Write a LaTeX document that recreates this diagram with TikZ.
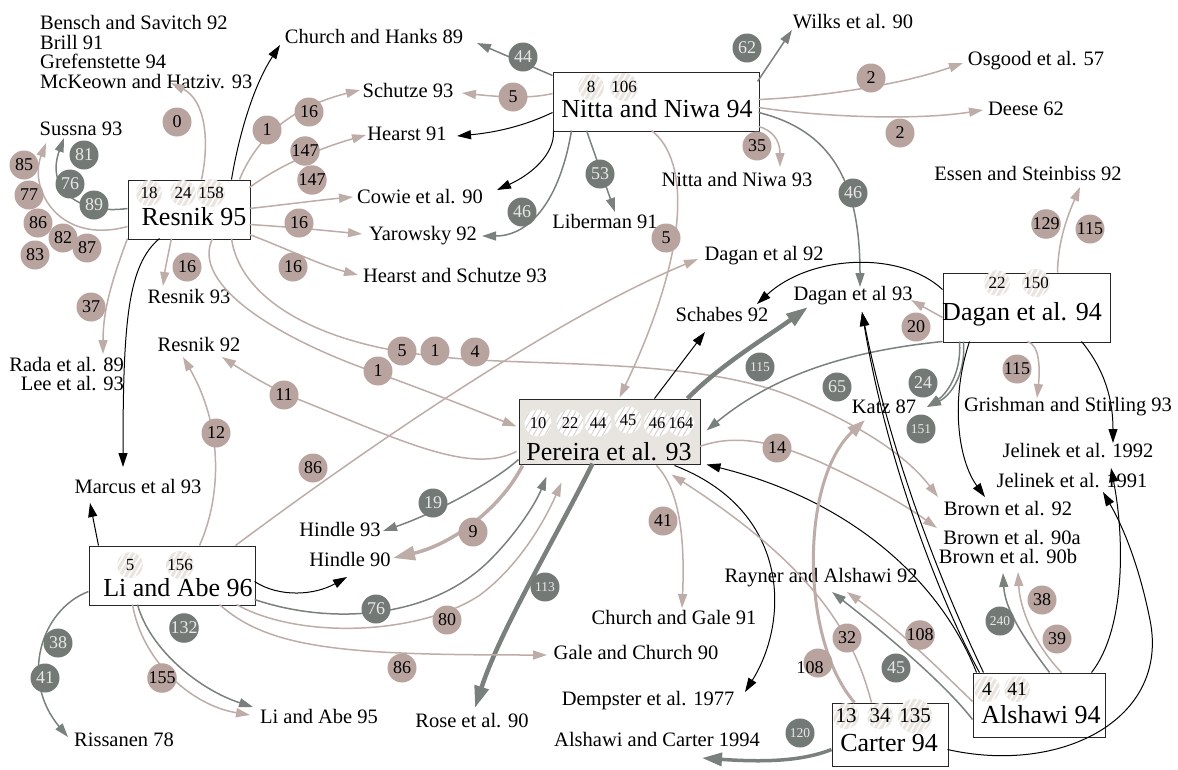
\documentclass[tikz,border=0pt]{standalone}
\usepackage{fontspec}
\setmainfont{Liberation Serif}
\usetikzlibrary{arrows.meta,calc,patterns.meta}
\definecolor{pinkC}{RGB}{184,163,159}
\definecolor{pinkL}{RGB}{190,172,168}
\definecolor{grayC}{RGB}{115,122,118}
\definecolor{grayL}{RGB}{122,129,125}
\definecolor{grayT}{RGB}{232,232,232}
\definecolor{hatchC}{RGB}{234,228,223}
\definecolor{perC}{RGB}{232,229,225}
\tikzset{
 lab/.style={font=\fontsize{20.5}{19.5}\selectfont, inner sep=0pt},
 big/.style={font=\fontsize{26}{26}\selectfont, inner sep=0pt},
 box/.style={draw=black!85, line width=1pt, fill=white, inner sep=0pt},
 pc/.style={circle, fill=pinkC, minimum size=29pt, inner sep=0pt, font=\fontsize{18}{18}\selectfont},
 gc/.style={circle, fill=grayC, text=grayT, minimum size=29pt, inner sep=0pt, font=\fontsize{18}{18}\selectfont},
 sm/.style={font=\fontsize{13.5}{13.5}\selectfont},
 hc/.style={circle, minimum size=26pt, inner sep=0pt, fill=hatchC, postaction={pattern={Lines[angle=60,distance=5pt,line width=1.6pt]}, pattern color=white}, font=\fontsize{17}{17}\selectfont},
 hcw/.style={circle, minimum size=27pt, inner sep=0pt, fill=white, postaction={pattern={Lines[angle=60,distance=5pt,line width=1pt]}, pattern color=hatchC!92!black}, font=\fontsize{16.5}{16.5}\selectfont},
 fc/.style={font=\fontsize{21}{21}\selectfont},
 fa/.style={font=\fontsize{19.5}{19.5}\selectfont},
 tipa/.style={-{Triangle[length=14pt,width=9pt]}},
 tipb/.style={-{Triangle[length=22pt,width=14pt]}},
 pe/.style={draw=pinkL, line width=1.5pt, tipa},
 ge/.style={draw=grayL, line width=1.5pt, tipa},
 be/.style={draw=black, line width=1pt, tipa},
 thickg/.style={draw=grayL, line width=4.5pt, tipb},
 thickp/.style={draw=pinkL, line width=3.5pt, tipb},
}
\begin{document}
\begin{tikzpicture}[x=1pt,y=-1pt]
\useasboundingbox (0,0) rectangle (1178,769);
% boxes
\node[box, minimum width=122pt, minimum height=59pt] (r95) at (189,209.5) {};
\node[box, minimum width=206pt, minimum height=59pt] (nn94) at (656,101.5) {};
\node[box, minimum width=167pt, minimum height=69pt] (d94) at (1026.5,307.5) {};
\node[box, fill=perC, minimum width=181pt, minimum height=65pt] (per) at (609.5,431.5) {};
\node[box, minimum width=166pt, minimum height=59pt] (la96) at (172,575.5) {};
\node[box, minimum width=132pt, minimum height=64pt] (al94) at (1039,705) {};
\node[box, minimum width=116pt, minimum height=63pt] (c94) at (890,734.5) {};
% labels
\node[lab, align=left, anchor=west] (bsb) at (40,52) {Bensch and Savitch 92\\Brill 91\\Grefenstette 94\\McKeown and Hatziv. 93};
\node[lab] (ch89) at (374,36) {Church and Hanks 89};
\node[lab] (sch93) at (408,90) {Schutze 93};
\node[lab] (hea91) at (407,134) {Hearst 91};
\node[lab] (cow90) at (420,197) {Cowie et al. 90};
\node[lab] (yar92) at (423,236) {Yarowsky 92};
\node[lab] (hs93) at (455,275) {Hearst and Schutze 93};
\node[lab] (lib91) at (605,221) {Liberman 91};
\node[lab] (nn93) at (737,179) {Nitta and Niwa 93};
\node[lab] (wil90) at (853,22) {Wilks et al. 90};
\node[lab] (osg57) at (1036,61) {Osgood et al. 57};
\node[lab] (dee62) at (1026,109) {Deese 62};
\node[lab] (ess92) at (1028,173) {Essen and Steinbiss 92};
\node[lab] (sus93) at (81,129) {Sussna 93};
\node[lab] (res93) at (189,296) {Resnik 93};
\node[lab] (res92) at (199,344) {Resnik 92};
\node[lab, align=right, anchor=east] (rada) at (124,374) {Rada et al. 89\\Lee et al. 93};
\node[lab] (mar93) at (138,486) {Marcus et al 93};
\node[lab] (dag92) at (764,256) {Dagan et al 92};
\node[lab] (sch92) at (722,314) {Schabes 92};
\node[lab] (dag93) at (853,296) {Dagan et al 93};
\node[lab] (katz87) at (884,407) {Katz 87};
\node[lab] (gri93) at (1068,407) {Grishman and Stirling 93};
\node[lab] (jel92) at (1078,451) {Jelinek et al. 1992};
\node[lab] (jel91) at (1072,481) {Jelinek et al. 1991};
\node[lab] (bro92) at (1008,509) {Brown et al. 92};
\node[lab] (bro90a) at (1012,538) {Brown et al. 90a};
\node[lab] (bro90b) at (1008,557) {Brown et al. 90b};
\node[lab] (ray92) at (821,578) {Rayner and Alshawi 92};
\node[lab] (hin93) at (340,529) {Hindle 93};
\node[lab] (hin90) at (350,559) {Hindle 90};
\node[lab] (cg91) at (674,617) {Church and Gale 91};
\node[lab] (gc90) at (636,652) {Gale and Church 90};
\node[lab] (dem77) at (648,701) {Dempster et al. 1977};
\node[lab] (rose90) at (472,721) {Rose et al. 90};
\node[lab] (ac94) at (657,739) {Alshawi and Carter 1994};
\node[lab] (la95) at (319,716) {Li and Abe 95};
\node[lab] (ris78) at (124,740) {Rissanen 78};
% edges from Resnik 95
\draw[be] ($(r95.north west)+(104,0)$) .. controls (238,140) and (252,88) .. ($(ch89)+(-94,9)$);
\draw[pe] ($(r95.north west)+(112,0)$) .. controls (260,130) and (300,105) .. ($(sch93)+(-48,0)$);
\draw[pe] ($(r95.north west)+(122,8)$) .. controls (280,165) and (320,148) .. ($(hea91)+(-41,1)$);
\draw[pe] ($(r95.north west)+(122,29)$) .. controls (290,204) and (320,200) .. ($(cow90)+(-67,0)$);
\draw[pe] ($(r95.north west)+(122,45)$) .. controls (290,227) and (320,230) .. ($(yar92)+(-61,-2)$);
\draw[pe] ($(r95.north west)+(122,55)$) .. controls (290,250) and (320,265) .. ($(hs93)+(-97,0)$);
\draw[pe] ($(r95.north west)+(44,59)$) .. controls (168,255) and (165,270) .. ($(res93)+(-26,-10)$);
\draw[ge] ($(r95.north west)+(0,29)$) .. controls (80,215) and (45,190) .. ($(sus93)+(-17,9)$);
\draw[pe] ($(r95.north west)+(0,47)$) .. controls (60,245) and (28,190) .. ($(sus93)+(-35,14)$);
\draw[pe] ($(r95.north west)+(74,0)$) .. controls (210,140) and (205,100) .. ($(bsb.west)+(131,31)$);
\draw[pe] ($(r95.north west)+(0,59)$) .. controls (112,280) and (103,310) .. ($(rada.east)+(-21,-20)$);
\draw[be] ($(r95.north west)+(32,59)$) .. controls (128,265) and (123,320) .. ($(mar93)+(-15,-19)$);
\draw[pe] ($(r95.north west)+(85,59)$) .. controls (190,285) and (280,340) .. (380,374) .. controls (430,392) and (480,412) .. ($(per.north west)+(-2,28)$);
\draw[pe] ($(r95.north west)+(104,59)$) .. controls (240,300) and (320,345) .. (435,356) .. controls (520,368) and (700,355) .. (800,400) .. controls (870,430) and (910,460) .. ($(bro92)+(-70,-12)$);
% edges from Nitta and Niwa 94
\draw[ge] ($(nn94.north west)+(0,4)$) -- ($(ch89)+(103,7)$);
\draw[pe] ($(nn94.north west)+(0,22)$) .. controls (530,99) and (500,97) .. ($(sch93)+(54,3)$);
\draw[be] ($(nn94.north west)+(0,41)$) .. controls (520,128) and (490,133) .. ($(hea91)+(50,2)$);
\draw[be] ($(nn94.north west)+(1,59)$) .. controls (555,155) and (530,175) .. ($(cow90)+(77,-7)$);
\draw[ge] ($(nn94.north west)+(19,59)$) .. controls (560,200) and (530,236) .. ($(yar92)+(59,0)$);
\draw[ge] ($(nn94.north west)+(34,59)$) -- ($(lib91)+(10,-9)$);
\draw[pe] ($(nn94.north west)+(99,59)$) .. controls (690,160) and (690,250) .. ($(per.north west)+(101,-1)$);
\draw[ge] ($(nn94.north west)+(205,10)$) -- ($(wil90)+(-61,8)$);
\draw[pe] ($(nn94.north west)+(206,28)$) .. controls (820,97) and (900,85) .. ($(osg57)+(-73,2)$);
\draw[pe] ($(nn94.north west)+(206,36)$) .. controls (830,118) and (920,120) .. ($(dee62)+(-43,1)$);
\draw[pe] ($(nn94.north west)+(206,55)$) .. controls (772,130) and (780,140) .. ($(nn93)+(43,-12)$);
\draw[ge] ($(nn94.north west)+(206,41)$) .. controls (830,130) and (860,180) .. ($(dag93)+(7,-9)$);
% edges from Dagan et al. 94
\draw[pe] ($(d94.north west)+(115,0)$) .. controls (1058,240) and (1068,215) .. ($(ess92)+(52,14)$);
\draw[pe] ($(d94.north west)+(0,45)$) -- ($(dag93)+(58,4)$);
\draw[be] ($(d94.north west)+(0,17)$) .. controls (900,250) and (810,255) .. ($(sch92)+(35,-10)$);
\draw[ge] ($(d94.north west)+(0,69)$) .. controls (860,350) and (780,370) .. ($(per.north west)+(188,32)$);
\draw[ge] ($(d94.north west)+(17,69)$) .. controls (962,375) and (945,395) .. ($(katz87)+(43,0)$);
\draw[ge] ($(d94.north west)+(21,69)$) .. controls (966,378) and (948,397) .. ($(katz87)+(43,0)$);
\draw[pe] ($(d94.north west)+(85,69)$) .. controls (1040,345) and (1040,370) .. ($(gri93)+(-31,-9)$);
\draw[be] ($(d94.north west)+(27,69)$) .. controls (950,400) and (958,460) .. ($(bro92)+(-23,-12)$);
\draw[be] ($(d94.north west)+(139,69)$) .. controls (1105,370) and (1113,400) .. ($(jel92)+(35,-8)$);
% edges from Pereira et al. 93
\draw[be] ($(per.north west)+(136,0)$) -- ($(sch92)+(-17,18)$);
\draw[thickg] ($(per.north west)+(169,0)$) .. controls (720,365) and (770,335) .. ($(dag93)+(-45,11)$);
\draw[ge] ($(per.north west)+(0,61)$) .. controls (490,485) and (430,515) .. ($(hin93)+(43,2)$);
\draw[thickp] ($(per.north west)+(4,67)$) .. controls (500,510) and (450,545) .. ($(hin90)+(43,-1)$);
\draw[thickg] ($(per.north west)+(74,65)$) .. controls (560,530) and (500,630) .. ($(rose90)+(3,-13)$);
\draw[pe] ($(per.north west)+(138,67)$) .. controls (680,490) and (685,540) .. ($(cg91)+(8,-9)$);
\draw[be] ($(per.north west)+(156,67)$) .. controls (790,510) and (790,620) .. ($(dem77)+(97,-9)$);
\draw[pe] ($(per.north west)+(181,48)$) .. controls (740,432) and (780,445) .. (820,462) .. controls (870,485) and (905,505) .. ($(bro90a)+(-75,-10)$);
\draw[pe] ($(per.north west)+(-2,53)$) .. controls (470,475) and (400,440) .. (300,400) .. controls (270,388) and (245,372) .. ($(res92)+(23,13)$);
% edges from Li and Abe 96
\draw[be] ($(la96.north west)+(10,0)$) -- ($(mar93)+(-48,17)$);
\draw[pe] ($(la96.north west)+(111,0)$) .. controls (220,500) and (225,430) .. ($(res92)+(-16,13)$);
\draw[pe] ($(la96.north west)+(147,0)$) .. controls (350,460) and (550,320) .. ($(dag92)+(-66,3)$);
\draw[be] ($(la96.north west)+(166,36)$) .. controls (280,598) and (315,595) .. ($(hin90)+(-3,18)$);
\draw[ge] ($(la96.north west)+(166,54)$) .. controls (330,625) and (430,620) .. (490,560) .. controls (515,535) and (535,505) .. ($(per.north west)+(28,78)$);
\draw[pe] ($(la96.north west)+(148,59)$) .. controls (300,640) and (420,635) .. (480,595) .. controls (520,565) and (545,520) .. ($(per.north west)+(43,84)$);
\draw[pe] ($(la96.north west)+(131,59)$) .. controls (270,650) and (350,655) .. ($(gc90)+(-89,3)$);
\draw[ge] ($(la96.north west)+(49,59)$) .. controls (150,650) and (200,690) .. ($(la95)+(-66,-9)$);
\draw[pe] ($(la96.north west)+(44,59)$) .. controls (142,660) and (190,705) .. ($(la95)+(-69,-1)$);
\draw[ge] ($(la96.north west)+(0,46)$) .. controls (40,610) and (20,680) .. ($(ris78)+(-56,-3)$);
% edges from Alshawi 94
\draw[ge] ($(al94.north west)+(0,47)$) .. controls (950,690) and (900,645) .. ($(ray92)+(11,14)$);
\draw[pe] ($(al94.north west)+(0,29)$) .. controls (940,670) and (900,630) .. ($(ray92)+(26,14)$);
\draw[ge] ($(al94.north west)+(77,0)$) .. controls (1025,640) and (1005,610) .. ($(bro90b)+(-5,16)$);
\draw[pe] ($(al94.north west)+(89,0)$) .. controls (1035,645) and (1020,610) .. ($(bro90b)+(10,15)$);
\draw[be] ($(al94.north west)+(4,0)$) .. controls (940,580) and (850,500) .. ($(per.north west)+(188,66)$);
\draw[be] ($(al94.north west)+(7,0)$) .. controls (950,620) and (890,480) .. ($(dag93)+(9,16)$);
\draw[be] ($(al94.north west)+(11,0)$) .. controls (956,615) and (896,480) .. ($(dag93)+(9,16)$);
\draw[be] ($(al94.north west)+(119,0)$) .. controls (1125,630) and (1125,540) .. ($(jel92)+(33,17)$);
% edges from Carter 94
\draw[be] ($(c94.north west)+(116,47)$) .. controls (1060,775) and (1170,720) .. (1150,620) .. controls (1140,570) and (1125,530) .. ($(jel91)+(31,11)$);
\draw[draw=pinkL, line width=3pt, -{Triangle[length=18pt,width=12pt]}] ($(c94.north west)+(23,0)$) .. controls (800,640) and (800,480) .. ($(katz87)+(-19,13)$);
\draw[pe] ($(c94.north west)+(40,0)$) .. controls (855,640) and (820,570) .. ($(per.north west)+(153,76)$);
\draw[draw=grayL, line width=3.5pt, -{Triangle[length=20pt,width=13pt]}] ($(c94.north west)+(0,47)$) .. controls (800,762) and (760,762) .. ($(ac94)+(45,19)$);
% pink count circles
\node[pc] (p1) at (177,122) {0};
\node[pc] (p2) at (267,130) {1};
\node[pc] (p3) at (309,112) {16};
\node[pc] (p4) at (305,151) {147};
\node[pc] (p5) at (312,180) {147};
\node[pc] (p6) at (299,223) {16};
\node[pc] (p7) at (293,267) {16};
\node[pc] (p8) at (187,267) {16};
\node[pc] (p9) at (24,165) {85};
\node[pc] (p10) at (29,195) {77};
\node[pc] (p11) at (38,223) {86};
\node[pc] (p12) at (63,238) {82};
\node[pc] (p13) at (87,248) {87};
\node[pc] (p14) at (35,255) {83};
\node[pc] (p15) at (91,307) {37};
\node[pc] (p16) at (284,395) {11};
\node[pc] (p17) at (216,433) {12};
\node[pc] (p18) at (313,468) {86};
\node[pc] (p19) at (378,371) {1};
\node[pc] (p20) at (402,351) {5};
\node[pc] (p21) at (435,351) {1};
\node[pc] (p22) at (475,352) {4};
\node[pc] (p23) at (513,97) {5};
\node[pc] (p24) at (666,238) {5};
\node[pc] (p25) at (757,146) {35};
\node[pc] (p26) at (871,78) {2};
\node[pc] (p27) at (900,133) {2};
\node[pc] (p28) at (1046,224) {129};
\node[pc] (p29) at (1090,229) {115};
\node[pc] (p30) at (916,327) {20};
\node[pc] (p31) at (1017,369) {115};
\node[pc] (p32) at (777,448) {14};
\node[pc] (p33) at (473,532) {9};
\node[pc] (p34) at (663,521) {41};
\node[pc] (p35) at (162,678) {155};
\node[pc] (p36) at (447,620) {80};
\node[pc] (p37) at (402,668) {86};
\node[pc] (p38) at (847,638) {32};
\node[pc] (p39) at (818,663) {};
\node[font=\fontsize{18}{18}\selectfont, inner sep=0pt] (t39) at (810,668) {108};
\node[pc] (p40) at (920,635) {108};
\node[pc] (p41) at (1042,600) {38};
\node[pc] (p42) at (1057,639) {39};
% gray count circles
\node[gc] (g1) at (84,155) {81};
\node[gc] (g2) at (70,184) {76};
\node[gc] (g3) at (94,205) {89};
\node[gc] (g4) at (523,57) {44};
\node[gc] (g5) at (600,174) {53};
\node[gc] (g6) at (522,212) {46};
\node[gc] (g7) at (747,48) {62};
\node[gc] (g8) at (853,193) {46};
\node[gc] (g9) at (837,387) {65};
\node[gc] (g10) at (923,383) {24};
\node[gc, sm] (g11) at (921,429) {151};
\node[gc, sm] (g12) at (760,367) {115};
\node[gc] (g13) at (433,503) {19};
\node[gc, sm] (g14) at (545,587) {113};
\node[gc] (g15) at (58,643) {38};
\node[gc] (g16) at (45,678) {41};
\node[gc] (g17) at (184,628) {132};
\node[gc] (g18) at (376,609) {76};
\node[gc] (g19) at (896,668) {45};
\node[gc, sm] (g20) at (1000,621) {240};
\node[gc, sm] (g21) at (800,733) {120};
% box contents
\node[hc] (r95a) at (149,193) {18};
\node[hc] (r95b) at (183,193) {24};
\node[hc] (r95c) at (211,193) {158};
\node[big] (r95t) at (194,217) {Resnik 95};
\node[hc] (nn94a) at (591,87) {8};
\node[hc] (nn94b) at (624,87) {106};
\node[big] (nn94t) at (657,109) {Nitta and Niwa 94};
\node[hc] (d94a) at (997,283) {22};
\node[hc] (d94b) at (1036,283) {150};
\node[big] (d94t) at (1022,314) {Dagan et al. 94};
\node[hcw] (pera) at (538,423) {10};
\node[hcw] (perb) at (570,423) {22};
\node[hcw] (perc) at (598,423) {44};
\node[hcw] (perd) at (628,420) {45};
\node[hcw] (pere) at (657,423) {46};
\node[hcw] (perf) at (681,423) {164};
\node[big] (pert) at (609,452) {Pereira et al. 93};
\node[hc] (la96a) at (130,565) {5};
\node[hc] (la96b) at (180,565) {156};
\node[big] (la96t) at (178,588) {Li and Abe 96};
\node[hc, fa] (al94a) at (987,689) {4};
\node[hc, fa] (al94b) at (1017,689) {41};
\node[big] (al94t) at (1041,715) {Alshawi 94};
\node[hc, fc] (c94a) at (846,716) {13};
\node[hc, fc] (c94b) at (880,716) {34};
\node[hc, fc] (c94c) at (915,716) {135};
\node[big] (c94t) at (889,743) {Carter 94};
\end{tikzpicture}
\end{document}
